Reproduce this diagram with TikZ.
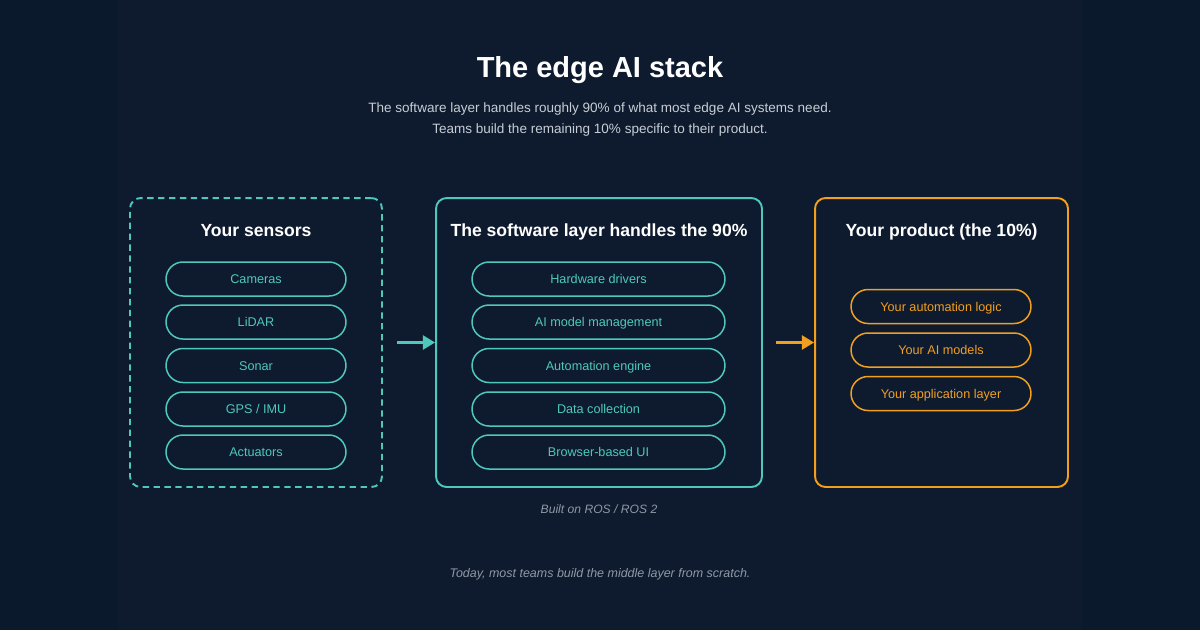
\documentclass[tikz,border=0pt]{standalone}
\usepackage{fontspec}
\setmainfont{Liberation Sans}
\usepackage{xcolor}
\usetikzlibrary{arrows.meta,positioning,calc}
\definecolor{bgOut}{HTML}{0A192B}
\definecolor{bgIn}{HTML}{0E1B2E}
\definecolor{cTeal}{HTML}{4FC8BB}
\definecolor{cOrange}{HTML}{F29E1F}
\definecolor{inkP}{HTML}{FFFFFF}
\definecolor{inkS}{HTML}{C8CDD5}
\definecolor{inkM}{HTML}{8F98A6}
\tikzset{
  layer/.style={rounded corners=6pt, line width=1.1pt, minimum height=5.78cm,
                inner sep=0pt},
  sensorbox/.style={layer, draw=cTeal, dash pattern=on 3.6pt off 2.6pt,
                    minimum width=5.04cm},
  stackbox/.style={layer, draw=cTeal, minimum width=6.52cm},
  productbox/.style={layer, draw=cOrange, minimum width=5.06cm},
  boxhead/.style={font=\fontsize{10}{12}\selectfont\bfseries, text=inkP,
                  text height=7.2pt, text depth=2pt},
  pill/.style={rounded corners=0.34cm, line width=0.85pt, minimum height=0.68cm,
               inner sep=0pt, font=\fontsize{7.2}{9}\selectfont,
               text height=6.6pt, text depth=1.4pt},
  tealpill/.style={pill, draw=cTeal, text=cTeal},
  orangepill/.style={pill, draw=cOrange, text=cOrange},
  note/.style={font=\fontsize{6.9}{9}\selectfont\itshape, text=inkM},
  flow/.style={-{Triangle[length=7pt, width=8pt]}, line width=1.6pt},
}

\begin{document}
\begin{tikzpicture}[x=0.02cm, y=-0.02cm]
  \fill[bgOut] (0,0) rectangle (1200,630);
  \fill[bgIn] (118,0) rectangle (1082,630);
  \useasboundingbox (0,0) rectangle (1200,630);
  % title
  \node[font=\fontsize{16.5}{20}\selectfont\bfseries, text=inkP] (title) at (600,70)
    {The edge AI stack};
  \node[font=\fontsize{7.7}{11.9}\selectfont, text=inkS, align=center] (sub) at (600,119.5)
    {The software layer handles roughly 90\% of what most edge AI systems need.\\
     Teams build the remaining 10\% specific to their product.};
  % the three layers
  \node[sensorbox] (sensors) at (256,342.5) {};
  \node[stackbox] (stack) at (599,342.5) {};
  \node[productbox] (product) at (941.5,342.5) {};
  \node[boxhead] (hsensors) at (256,232) {Your sensors};
  \node[boxhead] (hstack) at (599,232) {The software layer handles the 90\%};
  \node[boxhead] (hproduct) at (941.5,232) {Your product (the 10\%)};
  % pills
  \foreach \y/\t [count=\i] in {279/Cameras, 322/LiDAR, 365.5/Sonar,
                               409/{GPS / IMU}, 452/Actuators}
    \node[tealpill, minimum width=3.6cm] (s\i) at (256,\y) {\t};
  \foreach \y/\t [count=\i] in {279/Hardware drivers, 322/AI model management,
                               365.5/Automation engine, 409/Data collection,
                               452/Browser-based UI}
    \node[tealpill, minimum width=5.06cm] (m\i) at (598.5,\y) {\t};
  \foreach \y/\t [count=\i] in {306.5/Your automation logic, 350/Your AI models,
                               393.5/Your application layer}
    \node[orangepill, minimum width=3.6cm] (p\i) at (941,\y) {\t};
  % arrows
  \draw[flow, cTeal] ([xshift=14*0.02cm]sensors.east) -- (stack.west);
  \draw[flow, cOrange] ([xshift=13*0.02cm]stack.east) -- (product.west);
  % notes
  \node[note] (ros) at (599,509) {Built on ROS / ROS 2};
  \node[note, font=\fontsize{7.1}{9}\selectfont\itshape] (today) at (600,574)
    {Today, most teams build the middle layer from scratch.};
\end{tikzpicture}
\end{document}
